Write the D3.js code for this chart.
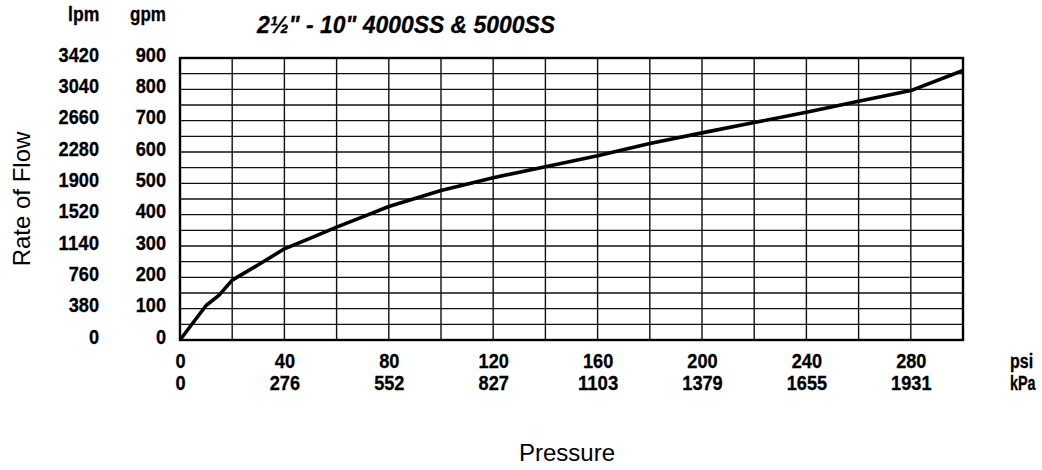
<!DOCTYPE html>
<html>
<head>
<meta charset="utf-8">
<script src="https://cdn.jsdelivr.net/npm/d3@7"></script>
<style>
  body { margin: 0; background: #fff; }
  svg { display: block; }
  .lbl { font-family: "Liberation Sans", Arial, sans-serif; font-weight: bold; font-size: 20px; fill: #000; stroke: #000; stroke-width: 0.3px; }
  .big { font-family: "Liberation Sans", Arial, sans-serif; font-size: 24px; fill: #000; }
</style>
</head>
<body>
<script>
// flow curve (psi -> gpm)
const pressurePsi = [0, 10, 15, 20, 30, 40, 50, 60, 70, 80, 100, 120, 140, 160, 180, 200, 220, 240, 260, 280, 300];
const flowGpm     = [0, 110, 143, 191, 240, 291, 325, 360, 393, 426, 477, 518, 553, 588, 627, 661, 694, 727, 762, 796, 860];

const psiTicks = [0, 40, 80, 120, 160, 200, 240, 280];
const kpaLabels = ["0", "276", "552", "827", "1103", "1379", "1655", "1931"];
const gpmTicks = [0, 100, 200, 300, 400, 500, 600, 700, 800, 900];
const lpmLabels = ["0", "380", "760", "1140", "1520", "1900", "2280", "2660", "3040", "3420"];

const width = 1042, height = 470;
const margin = { top: 58, right: 79, bottom: 130, left: 180 };
const digitW = 10.1; // condensed digit width

const x = d3.scaleLinear().domain([0, 300]).range([margin.left, width - margin.right]);
const y = d3.scaleLinear().domain([0, 900]).range([height - margin.bottom, margin.top]);

const svg = d3.select("body").append("svg")
    .attr("width", width)
    .attr("height", height);

// grid
const grid = svg.append("g").attr("stroke", "#111").attr("stroke-width", 1.4);
grid.selectAll("line.v")
    .data(x.ticks(15))
    .join("line")
    .attr("x1", d => x(d)).attr("x2", d => x(d))
    .attr("y1", y(0)).attr("y2", y(900));
grid.selectAll("line.h")
    .data(y.ticks(18))
    .join("line")
    .attr("x1", x(0)).attr("x2", x(300))
    .attr("y1", d => y(d)).attr("y2", d => y(d));

svg.append("rect")
    .attr("x", x(0)).attr("y", y(900))
    .attr("width", x(300) - x(0)).attr("height", y(0) - y(900))
    .attr("fill", "none").attr("stroke", "#000").attr("stroke-width", 2.4);

// curve
const line = d3.line()
    .x((d, i) => x(pressurePsi[i]))
    .y(d => y(d));

svg.append("path")
    .datum(flowGpm)
    .attr("fill", "none")
    .attr("stroke", "#000")
    .attr("stroke-width", 3.6)
    .attr("stroke-linejoin", "round")
    .attr("d", line);

// axes
function styleAxis(g) {
    g.select(".domain").remove();
    g.selectAll(".tick line").remove();
    g.selectAll("text")
        .attr("class", "lbl").attr("fill", null)
        .attr("textLength", function() { return this.textContent.length * digitW; })
        .attr("lengthAdjust", "spacingAndGlyphs");
}

svg.append("g")
    .attr("transform", `translate(${margin.left},0)`)
    .call(d3.axisLeft(y).tickValues(gpmTicks).tickSize(0).tickPadding(14))
    .call(styleAxis)
    .call(g => g.selectAll("text").attr("dy", "3px"));

svg.append("g")
    .attr("transform", `translate(${margin.left},0)`)
    .call(d3.axisLeft(y).tickValues(gpmTicks).tickSize(0).tickPadding(81)
        .tickFormat((d, i) => lpmLabels[i]))
    .call(styleAxis)
    .call(g => g.selectAll("text").attr("dy", "3px"));

svg.append("g")
    .attr("transform", `translate(0,${y(0)})`)
    .call(d3.axisBottom(x).tickValues(psiTicks).tickSize(0).tickFormat(d3.format("d")))
    .call(styleAxis)
    .call(g => g.selectAll("text").attr("y", 28).attr("dy", null));

svg.append("g")
    .attr("transform", `translate(0,${y(0)})`)
    .call(d3.axisBottom(x).tickValues(psiTicks).tickSize(0)
        .tickFormat((d, i) => kpaLabels[i]))
    .call(styleAxis)
    .call(g => g.selectAll("text").attr("y", 50).attr("dy", null));

// unit headers (squeezed to look condensed)
function unit(txt, x0, y0, sx) {
    svg.append("text").attr("class", "lbl")
        .attr("transform", `translate(${x0},${y0}) scale(${sx},1)`)
        .text(txt);
}
unit("lpm", 68, 21, 0.88);
unit("gpm", 130, 21, 0.85);
unit("psi", 1010, 368, 0.8);
unit("kPa", 1010, 390, 0.72);

// title
svg.append("text")
    .attr("class", "lbl")
    .attr("x", 257).attr("y", 33)
    .style("font-size", "24px")
    .style("font-style", "italic")
    .attr("textLength", 298)
    .attr("lengthAdjust", "spacingAndGlyphs")
    .text("2\u00BD\" - 10\" 4000SS & 5000SS");

// axis titles
svg.append("text")
    .attr("class", "big")
    .attr("text-anchor", "middle")
    .attr("transform", `translate(30,${(y(0) + y(900)) / 2}) rotate(-90)`)
    .text("Rate of Flow");

svg.append("text")
    .attr("class", "big")
    .attr("text-anchor", "middle")
    .attr("x", 567).attr("y", 461)
    .text("Pressure");
</script>
</body>
</html>
